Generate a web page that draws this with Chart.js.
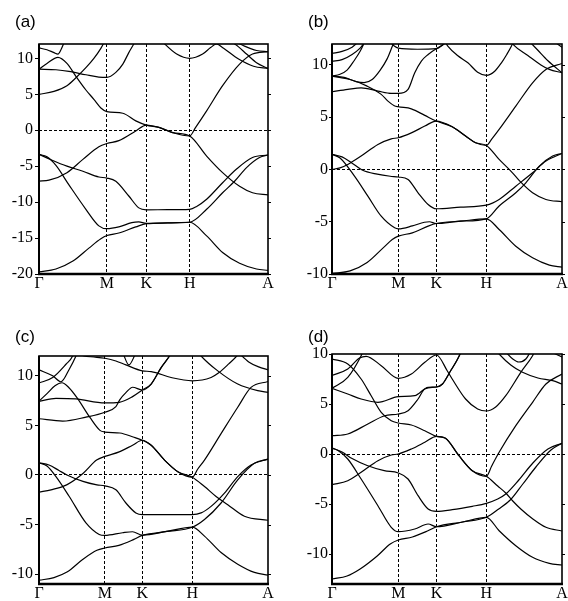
<!DOCTYPE html>
<html><head><meta charset="utf-8">
<script src="https://cdn.jsdelivr.net/npm/chart.js@4"></script>
<style>
html,body{margin:0;padding:0;background:#fff;}
body{width:568px;height:601px;position:relative;overflow:hidden;}
canvas{position:absolute;}
.lab{position:absolute;font-family:"Liberation Sans",Arial,sans-serif;font-size:17px;line-height:17px;color:#000;}
</style></head>
<body>
<canvas id="ca" width="284" height="300" style="left:0;top:0"></canvas>
<canvas id="cb" width="284" height="300" style="left:284px;top:0"></canvas>
<canvas id="cc" width="284" height="301" style="left:0;top:300px"></canvas>
<canvas id="cd" width="284" height="301" style="left:284px;top:300px"></canvas>
<div class="lab" style="left:15px;top:13px">(a)</div>
<div class="lab" style="left:308px;top:13px">(b)</div>
<div class="lab" style="left:15px;top:328px">(c)</div>
<div class="lab" style="left:308px;top:328px">(d)</div>
<script>
// k-path labels and positions (k-distance along path)
const kLabels = ['Γ','M','K','H','A'];
const kA = [0, 68, 107.5, 151, 229.5];
const kB = [0, 66, 103.7, 153.7, 229];
const kC = [0, 66, 103.5, 153.5, 229.3];
const kD = [0, 66, 104, 153.7, 229];

// energy ranges and ticks
const rangeA = [-20, 12], ticksA = [-20,-15,-10,-5,0,5,10];
const rangeB = [-10, 12], ticksB = [-10,-5,0,5,10];
const rangeC = [-11, 12], ticksC = [-10,-5,0,5,10];
const rangeD = [-13, 10], ticksD = [-10,-5,0,5,10];

// bands: [k, E] pairs
const bandsA = [
 [[0,-19.7],[17,-19.3],[34,-18.2],[50,-16.4],[62,-15.1],[68,-14.65],[80,-14.3],[97,-13.45],[107.5,-13.0],[129,-12.9],[151,-12.8],[168,-14.7],[184,-17.0],[201,-18.5],[218,-19.3],[229.5,-19.5]],
 [[0,-3.35],[8,-3.7],[17,-4.9],[30,-7.6],[47,-11.0],[60,-13.3],[68,-13.7],[80,-13.45],[93,-12.85],[100,-12.75],[107.5,-12.95],[129,-12.88],[151,-12.8],[168,-11.0],[184,-8.7],[196,-7.1],[208,-5.2],[221,-3.8],[229.5,-3.44]],
 [[0,-3.35],[12,-4.1],[28,-5.0],[44,-5.7],[60,-6.5],[68,-6.65],[77,-7.1],[90,-9.15],[100,-10.8],[107.5,-11.07],[129,-11.05],[151,-11.0],[158,-10.6],[168,-9.6],[184,-7.3],[198,-5.4],[214,-3.8],[229.5,-3.44]],
 [[0,-7.07],[10,-6.95],[28,-5.9],[44,-4.05],[60,-2.3],[68,-1.85],[80,-1.45],[97,-0.1],[107.5,0.72],[121,0.37],[134,-0.33],[151,-0.8],[168,-3.6],[184,-5.9],[201,-7.8],[214,-8.7],[229.5,-9.0]],
 [[0,8.5],[8,9.3],[19,10.14],[28,9.3],[37,7.5],[47,5.6],[55,4.3],[62,3.1],[68,2.6],[84,2.37],[97,1.3],[107.5,0.72],[121,0.37],[134,-0.33],[151,-0.8],[157,0.4],[168,2.7],[184,6.2],[201,9.2],[214,10.6],[229.5,10.93]],
 [[0,8.5],[17,8.42],[30,8.2],[47,7.72],[60,7.4],[68,7.35],[77,8.05],[84,9.2],[90,10.8],[95,12.0],[98,12.8]],
 [[0,5.0],[15,5.4],[28,6.2],[37,7.3],[47,8.7],[55,10.0],[62,11.4],[66,12.4]],
 [[0,11.45],[8,11.2],[15,10.8],[19,10.6],[22,11.2],[25.5,12.3]],
 [[122,12.6],[126,12.0],[138,10.6],[151,10.0],[164,10.6],[172,11.5],[178,12.0],[185,11.4],[200,9.9],[215,8.9],[229.5,8.6]],
 [[192,12.4],[200,11.6],[208,10.6],[218,9.4],[229.5,8.6]],
 [[196,12.4],[206,11.7],[218,11.1],[229.5,10.93]]
];
const bandsB = [
 [[0,-9.95],[18,-9.7],[35,-8.9],[52,-7.4],[60,-6.7],[66,-6.38],[80,-6.06],[95.7,-5.42],[103.7,-5.17],[128,-4.95],[153.7,-4.72],[166.4,-5.74],[183,-7.34],[199.7,-8.45],[216.4,-9.15],[229,-9.35]],
 [[0,1.44],[8,1.1],[22.4,-0.64],[35.7,-2.55],[49,-4.47],[62.4,-5.58],[66,-5.68],[80,-5.4],[92,-5.05],[97,-5.0],[103.7,-5.17],[128,-4.95],[153.7,-4.72],[166.4,-3.5],[183,-2.23],[193,-1.28],[206.4,0.32],[219.7,1.28],[229,1.53]],
 [[0,1.44],[10,1.2],[20,0.6],[30,-0.05],[45,-0.45],[58,-0.65],[66,-0.72],[75.7,-0.96],[85.7,-2.23],[95.7,-3.35],[103.7,-3.76],[128,-3.6],[153.7,-3.41],[166.4,-2.87],[183,-1.6],[199.7,-0.32],[213,0.8],[229,1.53]],
 [[0,0],[8,0.15],[15.7,0.48],[29,1.28],[45.7,2.39],[59,2.93],[66,3.03],[79,3.5],[92.4,4.15],[103.7,4.63],[119.7,4.08],[133,3.19],[143,2.55],[153.7,2.3],[166.4,0.96],[179.7,-0.32],[187,-1.12],[199.7,-2.23],[213,-2.87],[229,-3.09]],
 [[0,8.93],[18,8.6],[35,7.97],[49,7.18],[55.7,6.54],[62,6.1],[66,6.0],[79,5.8],[92.4,5.17],[103.7,4.63],[119.7,4.08],[133,3.19],[143,2.55],[153.7,2.3],[159,2.9],[166.4,3.83],[183,6.06],[199.7,8.29],[213,9.57],[229,10.14]],
 [[0,7.43],[15.7,7.66],[29,7.81],[45.7,7.5],[59,7.27],[66,7.27],[75.7,7.66],[82.4,9.25],[89,10.37],[95.7,11.0],[103.7,11.55],[110,11.9],[114,12.3]],
 [[57,12.3],[62,11.8],[66,11.6],[85,11.5],[103.7,11.55],[108,11.75],[115,12.3]],
 [[112,12.3],[115.3,11.8],[125,10.9],[135.3,10.2],[145,9.3],[153.7,9.0],[162,9.4],[168.7,10.2],[174,11.0],[178.7,11.8],[181,12.3]],
 [[178,12.3],[181,11.9],[195,10.9],[208,10.0],[216.4,9.57],[229,9.25]],
 [[196,12.3],[205,11.4],[215,10.4],[229,9.25]],
 [[220,12.3],[229,11.7]],
 [[0,11.1],[10,11.3],[20,11.7],[25,12.1],[28,12.4]],
 [[0,10.36],[10,10.5],[20,11.0],[28,11.6],[32,12.1],[34,12.4]],
 [[0,8.93],[8,9.1],[15,9.5],[22,10.4],[28,11.3],[33,12.3]],
 [[0,8.93],[12,8.8],[24,8.4],[32,8.3],[40,8.6],[48,9.5],[55,10.6],[61,12.0],[63,12.4]]
];
const bandsC = [
 [[0,-10.62],[15,-10.35],[28,-9.8],[44,-8.5],[58,-7.6],[66,-7.37],[80,-7.1],[95,-6.5],[103.5,-6.1],[128,-5.7],[153.5,-5.27],[165.7,-6.17],[182.3,-7.83],[199,-9.0],[215.7,-9.83],[229.3,-10.1]],
 [[0,1.23],[8,0.9],[17,-0.17],[30.3,-2.17],[47,-4.83],[60.3,-6.0],[66,-6.1],[83.7,-5.83],[93.7,-5.73],[103.5,-6.07],[128,-5.7],[153.5,-5.27],[165.7,-4.5],[182.3,-2.83],[199,-0.5],[215.7,1.17],[229.3,1.6]],
 [[0,1.23],[10,1.0],[20,0.45],[28,0.0],[44,-0.65],[58,-1.0],[66,-1.1],[77,-1.5],[87,-2.83],[97,-3.83],[103.5,-4.0],[128,-4.0],[153.5,-4.0],[162.3,-3.83],[172.3,-3.17],[185.7,-1.83],[199,-0.17],[212.3,1.0],[229.3,1.6]],
 [[0,-1.73],[12,-1.5],[27.7,-1.0],[44.3,0.17],[57.7,1.5],[66,1.87],[80.3,2.33],[93.7,3.0],[103.5,3.5],[112.3,3.0],[125.7,1.5],[139,0.33],[153.5,-0.23],[165.7,-1.17],[177.3,-2.17],[189,-3.0],[205.7,-4.17],[229.3,-4.57]],
 [[0,7.45],[8,8.2],[16,9.0],[23,9.3],[30,8.8],[38,7.8],[51,5.8],[61,4.5],[66,4.33],[81,4.23],[94.3,3.83],[103.5,3.5],[112.3,3.0],[125.7,1.5],[139,0.33],[153.5,-0.23],[159,0.6],[165.7,1.5],[182.3,4.17],[199,6.83],[212.3,8.83],[229.3,9.43]],
 [[0,5.67],[23.7,5.43],[47,5.83],[66,6.33],[77,6.9],[81,7.6],[87,8.3],[93.7,8.85],[103.5,8.57],[112.3,9.17],[122.3,10.83],[130.7,12.0],[133,12.4]],
 [[0,7.43],[17,7.73],[37,7.67],[66,7.27],[80.3,7.33],[93.7,7.9],[103.5,8.57],[112.3,9.17],[122.3,10.83],[130.7,12.0],[133,12.4]],
 [[0,9.27],[13.7,9.83],[27,11.17],[33.7,12.0],[35,12.4]],
 [[0,10.6],[13.7,10.0],[22,9.4],[30.3,10.67],[37,12.0],[38.5,12.4]],
 [[38,12.3],[45,12.0],[55,11.9],[66,11.77],[77,11.5],[87,11.1],[103.5,10.5],[112.3,10.43],[132.3,9.83],[153.5,9.5],[172.3,9.83],[180,10.3],[190,11.2],[198,12.0],[201,12.4]],
 [[84,12.3],[90,11.1],[97,12.3]],
 [[160,12.3],[162.3,12.0],[179,10.5],[199,9.17],[219,8.5],[229.3,8.33]],
 [[200,12.3],[210,11.4],[220,10.9],[229.3,10.6]]
];
const bandsD = [
 [[0,-12.5],[15,-12.2],[28,-11.5],[45,-10.2],[58,-9.0],[66,-8.6],[80,-8.3],[95,-7.7],[104,-7.27],[130,-6.8],[153.7,-6.33],[166.4,-7.67],[183,-9.17],[199.7,-10.33],[216.4,-10.93],[229,-11.1]],
 [[0,0.6],[6,0.35],[15.7,-0.5],[29,-2.5],[45.7,-5.17],[59,-7.33],[66,-7.77],[82.4,-7.5],[95.7,-7.0],[104,-7.27],[130,-6.8],[153.7,-6.33],[166,-5.5],[178,-4.55],[190,-3.0],[203,-1.3],[218,0.4],[229,1.07]],
 [[0,0.6],[10,0.2],[20,-0.45],[35,-1.15],[52,-1.67],[66,-1.9],[75.7,-2.5],[85.7,-4.17],[95.7,-5.5],[104,-5.73],[119.7,-5.57],[139.7,-5.23],[153.7,-4.93],[165,-4.5],[173,-4.0],[186,-2.6],[200,-0.9],[215,0.5],[229,1.07]],
 [[0,-3.07],[15.7,-2.67],[29,-1.83],[45.7,-0.67],[59,-0.1],[66,0],[79,0.5],[92.4,1.17],[104,1.77],[113,1.57],[126.4,-0.17],[139.7,-1.67],[153.7,-2.23],[165,-3.2],[173,-3.9],[180,-4.7],[188,-5.5],[200,-6.5],[213,-7.33],[229,-7.7]],
 [[0,1.83],[15.7,2.0],[35.7,3.0],[52.4,3.83],[66,4.0],[75.7,4.33],[85.7,5.5],[92.4,6.5],[104,6.7],[110,7.0],[118,8.3],[124,9.3],[129,10.3]],
 [[0,6.57],[15.7,6.0],[29,5.5],[45.7,5.17],[66,5.73],[82.4,5.83],[95.7,6.67],[104,6.7],[110,7.0],[118,8.3],[124,9.3],[129,10.3]],
 [[0,7.85],[15.7,8.5],[27.4,9.6],[34,9.77],[49,8.83],[66,7.57],[79,8.0],[92.4,9.17],[104,9.9],[114.7,8.33],[119.7,7.5],[133,5.5],[145,4.5],[153.7,4.3],[163,4.7],[173,5.83],[188,8.17],[199.7,9.83],[202,10.3]],
 [[0,9.5],[15.7,9.0],[29,7.5],[39,5.83],[49,4.17],[59,3.33],[66,3.1],[79,2.9],[92.4,2.33],[104,1.77],[113,1.57],[126.4,-0.17],[139.7,-1.67],[153.7,-2.23],[159,-1.2],[166.4,0.17],[183,2.83],[199.7,5.17],[213,7.0],[229,8.0]],
 [[0,6.57],[15.7,7.67],[29,9.83],[31,10.3]],
 [[164,10.3],[166.4,10.0],[178,8.9],[189.7,8.17],[205,7.6],[219.7,7.33],[229,7.0]],
 [[172,10.3],[180,9.5],[186,9.2],[193,9.5],[198,10.3]],
 [[216,10.3],[229,9.7]]
];

const framePlugin = {
  id: 'frame',
  afterDraw(chart) {
    const {ctx, chartArea: a} = chart;
    const y = chart.scales.y;
    ctx.save();
    ctx.strokeStyle = '#000';
    ctx.lineWidth = 1.6;
    ctx.strokeRect(a.left, a.top, a.right - a.left, a.bottom - a.top);
    ctx.lineWidth = 2.6;
    ctx.beginPath(); ctx.moveTo(a.left - 1, a.bottom); ctx.lineTo(a.right + 1, a.bottom); ctx.stroke();
    ctx.lineWidth = 2;
    ctx.beginPath(); ctx.moveTo(a.left, a.top); ctx.lineTo(a.left, a.bottom); ctx.stroke();
    ctx.lineWidth = 1;
    ctx.beginPath();
    y.ticks.forEach(t => {
      const py = Math.round(y.getPixelForValue(t.value)) + 0.5;
      ctx.moveTo(a.right, py); ctx.lineTo(a.right + 3, py);
    });
    ctx.stroke();
    ctx.restore();
  }
};

function panel(id, kPos, bands, range, yTicks, g) {
  new Chart(document.getElementById(id), {
    type: 'line',
    data: {
      datasets: bands.map(b => ({
        data: b.map(p => ({x: p[0], y: p[1]})),
        borderColor: '#000', borderWidth: 1.2, pointRadius: 0,
        cubicInterpolationMode: 'monotone', fill: false
      }))
    },
    options: {
      responsive: false, animation: false, devicePixelRatio: 1,
      events: [],
      layout: {padding: {left: 0, top: g.top, right: g.right, bottom: g.bottom}},
      plugins: {legend: {display: false}, tooltip: {enabled: false}},
      scales: {
        x: {
          type: 'linear', min: kPos[0], max: kPos[kPos.length - 1],
          afterBuildTicks: s => { s.ticks = kPos.map(v => ({value: v})); },
          afterFit: s => { s.height = g.xH; s.paddingLeft = 0; s.paddingRight = 0; },
          ticks: {
            callback: (v, i) => kLabels[i],
            font: {family: 'Liberation Serif', size: 16}, color: '#000',
            padding: 0, maxRotation: 0, autoSkip: false
          },
          grid: {
            color: c => (c.index > 0 && c.index < kPos.length - 1) ? '#000' : 'rgba(0,0,0,0)',
            lineWidth: 1, drawTicks: false
          },
          border: {display: false, dash: [3, 2]}
        },
        y: {
          type: 'linear', min: range[0], max: range[1],
          afterBuildTicks: s => { s.ticks = yTicks.map(v => ({value: v})); },
          afterFit: s => { s.width = g.yW; s.paddingTop = 0; s.paddingBottom = 0; },
          ticks: {
            callback: v => String(v),
            font: {family: 'Liberation Serif', size: 16}, color: '#000',
            padding: g.tp
          },
          grid: {
            color: c => (c.tick && c.tick.value === 0) ? '#000' : 'rgba(0,0,0,0)',
            tickColor: '#000', tickLength: g.tl, lineWidth: 1
          },
          border: {display: false, dash: [3, 2]}
        }
      }
    },
    plugins: [framePlugin]
  });
}

panel('ca', kA, bandsA, rangeA, ticksA, {top: 44, right: 16, bottom: 4, xH: 22, yW: 39, tl: 4, tp: 2});
panel('cb', kB, bandsB, rangeB, ticksB, {top: 44, right: 6, bottom: 4, xH: 22, yW: 48, tl: 3, tp: 1});
panel('cc', kC, bandsC, rangeC, ticksC, {top: 56, right: 16, bottom: 0, xH: 17, yW: 39, tl: 4, tp: 2});
panel('cd', kD, bandsD, rangeD, ticksD, {top: 54, right: 6, bottom: 0, xH: 17, yW: 48, tl: 3, tp: 1});
</script>
</body></html>
